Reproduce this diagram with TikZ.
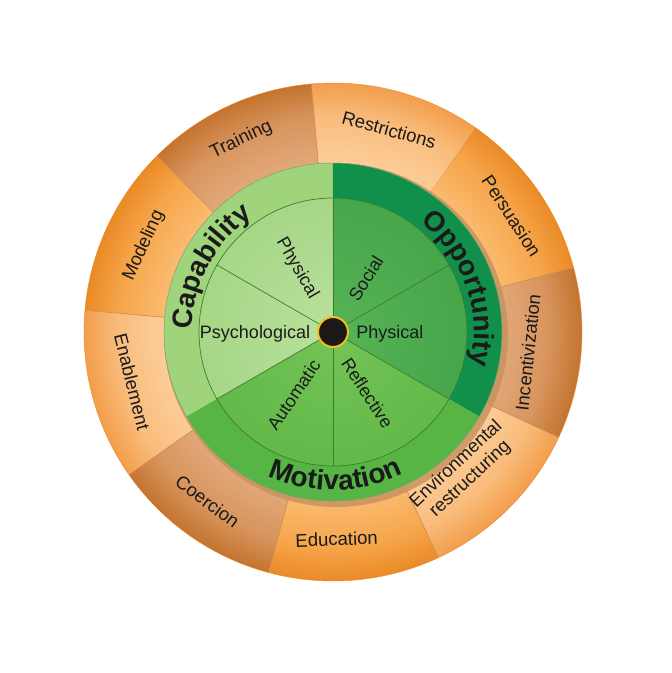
\documentclass[tikz,border=0pt]{standalone}
\usepackage{fontspec}
\setmainfont{Liberation Sans}
\usetikzlibrary{decorations.text}
\definecolor{brIn}{HTML}{E2A87A}
\definecolor{brMid}{HTML}{D8955E}
\definecolor{brOut}{HTML}{C4742F}
\definecolor{ltIn}{HTML}{FCCD98}
\definecolor{ltMid}{HTML}{F9BD7D}
\definecolor{ltOut}{HTML}{F29E4C}
\definecolor{orIn}{HTML}{FABB70}
\definecolor{orMid}{HTML}{F6A64C}
\definecolor{orOut}{HTML}{EA8A26}
\definecolor{segline}{HTML}{CC8C55}
\definecolor{capRing}{HTML}{A0D47C}
\definecolor{capIn}{HTML}{A6D686}
\definecolor{capInL}{HTML}{BAE19D}
\definecolor{oppRing}{HTML}{10904A}
\definecolor{oppIn}{HTML}{47A64A}
\definecolor{oppInL}{HTML}{56B456}
\definecolor{motRing}{HTML}{57B546}
\definecolor{motIn}{HTML}{63B94A}
\definecolor{motInL}{HTML}{74C357}
\definecolor{gline}{HTML}{3C7E30}
\definecolor{shadowc}{HTML}{C8935F}
\definecolor{txt}{HTML}{1A1A1A}
\definecolor{dotc}{HTML}{1C1818}
\definecolor{dotrim}{HTML}{EFBF22}
\pgfdeclareradialshading{shBrown}{\pgfpoint{0bp}{0bp}}{color(0bp)=(brIn); color(17bp)=(brIn); color(21.5bp)=(brMid); color(25bp)=(brOut); color(50bp)=(brOut)}
\pgfdeclareradialshading{shLight}{\pgfpoint{0bp}{0bp}}{color(0bp)=(ltIn); color(17bp)=(ltIn); color(21.5bp)=(ltMid); color(25bp)=(ltOut); color(50bp)=(ltOut)}
\pgfdeclareradialshading{shOrange}{\pgfpoint{0bp}{0bp}}{color(0bp)=(orIn); color(17bp)=(orIn); color(21.5bp)=(orMid); color(25bp)=(orOut); color(50bp)=(orOut)}
\pgfdeclareradialshading{shCap}{\pgfpoint{0bp}{0bp}}{color(0bp)=(capInL); color(25bp)=(capIn); color(50bp)=(capIn)}
\pgfdeclareradialshading{shOpp}{\pgfpoint{0bp}{0bp}}{color(0bp)=(oppInL); color(25bp)=(oppIn); color(50bp)=(oppIn)}
\pgfdeclareradialshading{shMot}{\pgfpoint{0bp}{0bp}}{color(0bp)=(motInL); color(25bp)=(motIn); color(50bp)=(motIn)}
\newcommand\orangeseg[3]{%
  \begin{scope}
    \clip (#1:168pt) arc[start angle=#1, end angle=#2, radius=168pt] -- (#2:249pt) arc[start angle=#2, end angle=#1, radius=249pt] -- cycle;
    \shade[shading=#3] (0,0) circle (249pt);
  \end{scope}
  \draw[segsep] (#1:168pt) -- (#1:249pt);}
\newcommand\innersector[3]{%
  \begin{scope}
    \clip (0,0) -- (#1:134pt) arc[start angle=#1, end angle=#2, radius=134pt] -- cycle;
    \shade[shading=#3] (0,0) circle (134pt);
  \end{scope}}
\newcommand\ringfont{\fontsize{28}{30}\selectfont\bfseries}
\begin{document}
\begin{tikzpicture}[x=1pt,y=1pt,
  segsep/.style={draw=segline, line width=0.7pt},
  olab/.style={text=txt, font=\fontsize{18.5}{20.5}\selectfont, inner sep=0pt},
  ilab/.style={text=txt, font=\fontsize{18}{20}\selectfont, inner sep=0pt},
  gsep/.style={draw=gline, line width=0.7pt}]
\useasboundingbox[fill=white] (-333,-341) rectangle (339,332);
% orange ring
\orangeseg{55}{95}{shLight}
\orangeseg{95}{135}{shBrown}
\orangeseg{135}{175}{shOrange}
\orangeseg{175}{215}{shLight}
\orangeseg{215}{255}{shBrown}
\orangeseg{255}{295}{shOrange}
\orangeseg{295}{335}{shLight}
\orangeseg{335}{375}{shBrown}
\orangeseg{15}{55}{shOrange}
\draw[draw=orOut, line width=0.4pt] (0,0) circle (249pt);
% shadow
\fill[shadowc, opacity=0.85] (3,-3) circle (172pt);
% green sectors (rings)
\fill[capRing] (0,0) -- (90:169pt) arc[start angle=90, end angle=210, radius=169pt] -- cycle;
\fill[oppRing] (0,0) -- (-30:169pt) arc[start angle=-30, end angle=90, radius=169pt] -- cycle;
\fill[motRing] (0,0) -- (210:169pt) arc[start angle=210, end angle=330, radius=169pt] -- cycle;
% inner sectors
\innersector{90}{210}{shCap}
\innersector{-30}{90}{shOpp}
\innersector{210}{330}{shMot}
\draw[gsep] (0,0) circle (134pt);
\foreach \a in {30,90,150,210,270,330} \draw[gsep] (0,0) -- (\a:134pt);
\draw[draw=gline!70, line width=0.5pt] (0,0) circle (169pt);
% ring titles
\path[decorate, decoration={text along path, text={|\ringfont|Capability}, text align=center, text color=txt}]
  (212:141pt) arc[start angle=212, end angle=92, radius=141pt];
\path[decorate, decoration={text along path, text={|\ringfont|Opportunity}, text align=center, text color=txt}]
  (80:141pt) arc[start angle=80, end angle=-42, radius=141pt];
\path[decorate, decoration={text along path, text={|\ringfont|Motivation}, text align=center, text color=txt}]
  (211:158pt) arc[start angle=211, end angle=331, radius=158pt];
% inner labels
\node[ilab, rotate=-60] (cphys) at (119.5:73pt) {Physical};
\node[ilab] (psych) at (181:78pt) {Psychological};
\node[ilab, rotate=58] (social) at (58.5:63pt) {Social};
\node[ilab] (ophys) at (-2:57pt) {Physical};
\node[ilab, rotate=56] (autom) at (238:74pt) {Automatic};
\node[ilab, rotate=-57] (refl) at (299.5:70pt) {Reflective};
% centre dot
\fill[dotc, draw=dotrim, line width=2pt] (0,0) circle (15pt);
\node[inner sep=0pt, minimum size=30pt] (hub) at (0,0) {};
% outer labels
\node[olab, rotate=-15.5] (restr) at (74.5:210pt) {Restrictions};
\node[olab, rotate=25.5] (train) at (115.5:213pt) {Training};
\node[olab, rotate=-57] (pers) at (33:213pt) {Persuasion};
\node[olab, rotate=84] (incent) at (-6:196pt) {Incentivization};
\node[olab, rotate=43, align=center] (envr) at (-47:191pt) {Environmental\\restructuring};
\node[olab, rotate=2] (educ) at (-89:207pt) {Education};
\node[olab, rotate=-36.5] (coerc) at (233.5:211pt) {Coercion};
\node[olab, rotate=-76] (enabl) at (194:207pt) {Enablement};
\node[olab, rotate=65.5] (model) at (155.5:208pt) {Modeling};
\end{tikzpicture}
\end{document}
